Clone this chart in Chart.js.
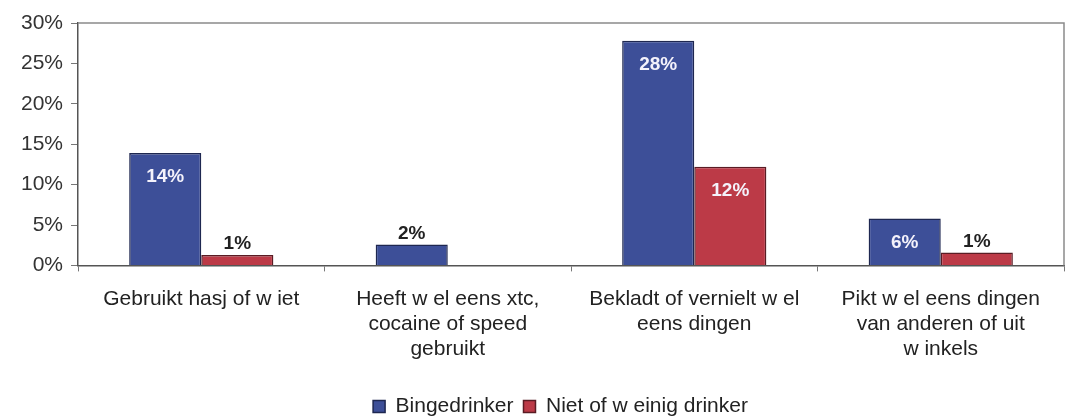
<!DOCTYPE html>
<html>
<head>
<meta charset="utf-8">
<script src="https://cdn.jsdelivr.net/npm/chart.js@4"></script>
<style>
  html, body { margin: 0; padding: 0; background: #fff; }
  #wrap { width: 1066px; height: 417px; }
</style>
</head>
<body>
<div id="wrap"><canvas id="chart"></canvas></div>
<script>
const categories = [
    ["Gebruikt hasj of w iet"],
    ["Heeft w el eens xtc,", "cocaine of speed", "gebruikt"],
    ["Bekladt of vernielt w el", "eens dingen"],
    ["Pikt w el eens dingen", "van anderen of uit", "w inkels"]
];
const seriesNames = ["Bingedrinker", "Niet of w einig drinker"];
const bingeValues = [13.9, 2.6, 27.8, 5.8];
const weinigValues = [1.3, 0, 12.2, 1.6];
const bingeLabels = ["14%", "2%", "28%", "6%"];
const weinigLabels = ["1%", "", "12%", "1%"];
const yTicks = [0, 5, 10, 15, 20, 25, 30];

const FONT = "'Liberation Sans', Arial, sans-serif";

// value labels: inside the bar top when there is room, above it otherwise
const valueLabels = {
    id: "valueLabels",
    afterDatasetsDraw(chart) {
        const ctx = chart.ctx;
        const texts = [bingeLabels, weinigLabels];
        ctx.save();
        ctx.font = "bold 19px " + FONT;
        ctx.textAlign = "center";
        ctx.textBaseline = "middle";
        chart.data.datasets.forEach((ds, i) => {
            chart.getDatasetMeta(i).data.forEach((bar, j) => {
                const txt = texts[i][j];
                if (!txt) return;
                const h = bar.base - bar.y;
                if (h > 35) {
                    ctx.fillStyle = "#f4f2fb";
                    ctx.fillText(txt, bar.x, bar.y + 24);
                } else {
                    ctx.fillStyle = "#222";
                    ctx.fillText(txt, bar.x, bar.y - 11);
                }
            });
        });
        ctx.restore();
    }
};

// grey frame on top and right of plot area
const plotFrame = {
    id: "plotFrame",
    beforeDatasetsDraw(chart) {
        const { ctx, chartArea: a } = chart;
        ctx.save();
        ctx.strokeStyle = "#8a8a8a";
        ctx.lineWidth = 1.5;
        ctx.beginPath();
        ctx.moveTo(a.left, a.top);
        ctx.lineTo(a.right, a.top);
        ctx.lineTo(a.right, a.bottom);
        ctx.stroke();
        ctx.restore();
    }
};

// nudge legend a bit lower and to the right, like the original
const legendShift = {
    id: "legendShift",
    afterLayout(chart) {
        const lg = chart.legend;
        lg.top += 10; lg.bottom += 10;
        lg.left += 22; lg.right += 22;
    }
};

new Chart(document.getElementById("chart"), {
    type: "bar",
    data: {
        labels: categories,
        datasets: [{
            label: seriesNames[0],
            data: bingeValues,
            backgroundColor: "#3d4f98",
            borderColor: "#1e2750",
            borderWidth: 1.5,
            categoryPercentage: 0.585,
            barPercentage: 1.0
        }, {
            label: seriesNames[1],
            data: weinigValues,
            backgroundColor: "#bc3a47",
            borderColor: "#5a1c24",
            borderWidth: 1.5,
            categoryPercentage: 0.585,
            barPercentage: 1.0
        }]
    },
    options: {
        responsive: true,
        maintainAspectRatio: false,
        animation: false,
        layout: {
            padding: { left: 13, right: 2, top: 23, bottom: 0 }
        },
        scales: {
            x: {
                grid: {
                    drawOnChartArea: false,
                    tickLength: 6,
                    tickColor: "#777"
                },
                border: { color: "#555", width: 1.5 },
                ticks: {
                    color: "#222",
                    font: { family: FONT, size: 21, lineHeight: 1.2 },
                    maxRotation: 0,
                    autoSkip: false,
                    padding: 15
                },
                afterFit(axis) {
                    axis.height -= 1;
                }
            },
            y: {
                min: 0,
                max: 30,
                afterBuildTicks(axis) {
                    axis.ticks = yTicks.map(v => ({ value: v }));
                },
                grid: {
                    drawOnChartArea: false,
                    tickLength: 7,
                    tickColor: "#777"
                },
                border: { color: "#555", width: 1.5 },
                ticks: {
                    color: "#333",
                    font: { family: FONT, size: 21 },
                    padding: 8,
                    callback: v => v + "%"
                }
            }
        },
        plugins: {
            legend: {
                position: "bottom",
                labels: {
                    color: "#222",
                    font: { family: FONT, size: 21 },
                    boxWidth: 12,
                    boxHeight: 12,
                    padding: 10
                }
            },
            tooltip: { enabled: false }
        }
    },
    plugins: [valueLabels, plotFrame, legendShift]
});
</script>
</body>
</html>
